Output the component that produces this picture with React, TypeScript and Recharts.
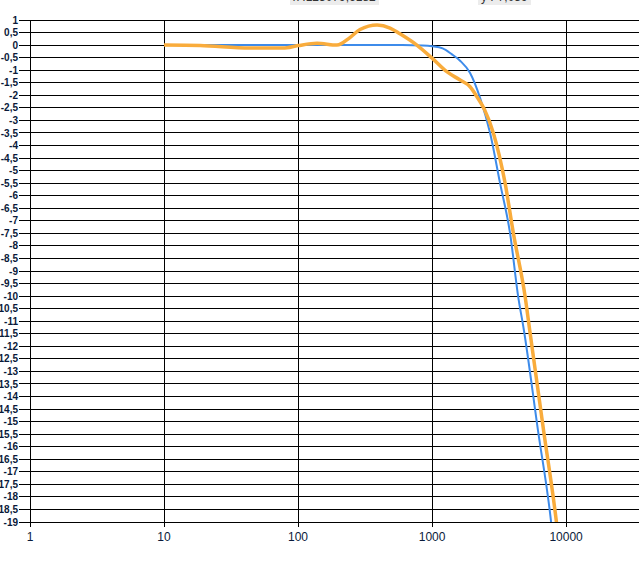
import { LineChart, Line, XAxis, YAxis, CartesianGrid } from "recharts";

// blue curve (reference response)
const blueFreq = [10, 200, 600, 850, 1000, 1200, 1400, 1618, 1922, 2281, 2710, 3216, 3821, 4385, 4842, 6170, 7730, 8200];
const blueGain = [0, 0, 0, -0.02, -0.05, -0.13, -0.36, -0.62, -1.11, -2.1, -3.5, -5.5, -7.5, -10.0, -11.35, -15.35, -19, -20.3];

// orange curve (measured response)
const orangeFreq = [10, 18.6, 43.8, 77.3, 100, 138.6, 195, 244, 290, 389, 486, 576, 770, 1000, 1288, 1618, 1922, 2157, 2450, 2866, 3507, 4045, 4940, 5350, 6795, 8470, 8900];
const orangeGain = [0, -0.02, -0.12, -0.12, -0.02, 0.07, 0, 0.3, 0.62, 0.8, 0.68, 0.45, 0, -0.52, -1.06, -1.39, -1.66, -2.05, -2.55, -3.5, -5.5, -7.5, -10.0, -11.35, -15.35, -19, -20];

const xTicks = [1, 10, 100, 1000, 10000];
const yTicks = [
  1, 0.5, 0, -0.5, -1, -1.5, -2, -2.5, -3, -3.5, -4, -4.5, -5, -5.5, -6, -6.5, -7, -7.5, -8, -8.5, -9,
  -9.5, -10, -10.5, -11, -11.5, -12, -12.5, -13, -13.5, -14, -14.5, -15, -15.5, -16, -16.5, -17, -17.5,
  -18, -18.5, -19,
];

const cursorX = "x :123079,6182";
const cursorY = "y :-7,039";

const blueData = blueFreq.map((f, i) => ({ f, g: blueGain[i] }));
const orangeData = orangeFreq.map((f, i) => ({ f, g: orangeGain[i] }));

const fmt = (v: number) => String(v).replace(".", ",");

const font = "'Liberation Sans', Arial, sans-serif";

const badge: React.CSSProperties = {
  position: "absolute",
  top: -10,
  fontFamily: font,
  fontSize: 12,
  lineHeight: "15px",
  color: "#333",
  background: "#ececec",
  padding: "0 3px",
};

export default function App() {
  return (
    <div style={{ position: "relative", width: 639, height: 563, overflow: "hidden", background: "#fff" }}>
      <style>{`body { margin: 0; }
.recharts-cartesian-grid line, .recharts-cartesian-axis-line, .recharts-cartesian-axis-tick-line { shape-rendering: crispEdges; }`}</style>
      <div style={{ ...badge, left: 290 }}>{cursorX}</div>
      <div style={{ ...badge, left: 478 }}>{cursorY}</div>
      <LineChart width={639} height={563} margin={{ top: 20, right: 0, bottom: 0, left: 0 }}>
        <CartesianGrid stroke="#000" strokeWidth={1} horizontalValues={yTicks} verticalValues={xTicks} />
        <XAxis
          type="number"
          dataKey="f"
          scale="log"
          domain={[1, 35000]}
          ticks={xTicks}
          allowDataOverflow
          height={41}
          tickSize={5}
          tickMargin={5}
          interval={0}
          axisLine={{ stroke: "#000" }}
          tickLine={{ stroke: "#000" }}
          tick={{ fill: "#0a1a3a", fontSize: 12, fontFamily: font }}
        />
        <YAxis
          type="number"
          dataKey="g"
          domain={[-19, 1]}
          ticks={yTicks}
          allowDataOverflow
          interval={0}
          width={30}
          tickSize={11}
          tickMargin={1}
          tickFormatter={fmt}
          axisLine={{ stroke: "#000" }}
          tickLine={{ stroke: "#000" }}
          tick={{ fill: "#0a1a3a", fontSize: 10, fontWeight: 600, fontFamily: font }}
        />
        <Line data={blueData} dataKey="g" type="monotone" stroke="#3d8bea" strokeWidth={2} dot={false} isAnimationActive={false} />
        <Line data={orangeData} dataKey="g" type="monotone" stroke="#f9ac3c" strokeWidth={3.5} dot={false} isAnimationActive={false} />
      </LineChart>
    </div>
  );
}
